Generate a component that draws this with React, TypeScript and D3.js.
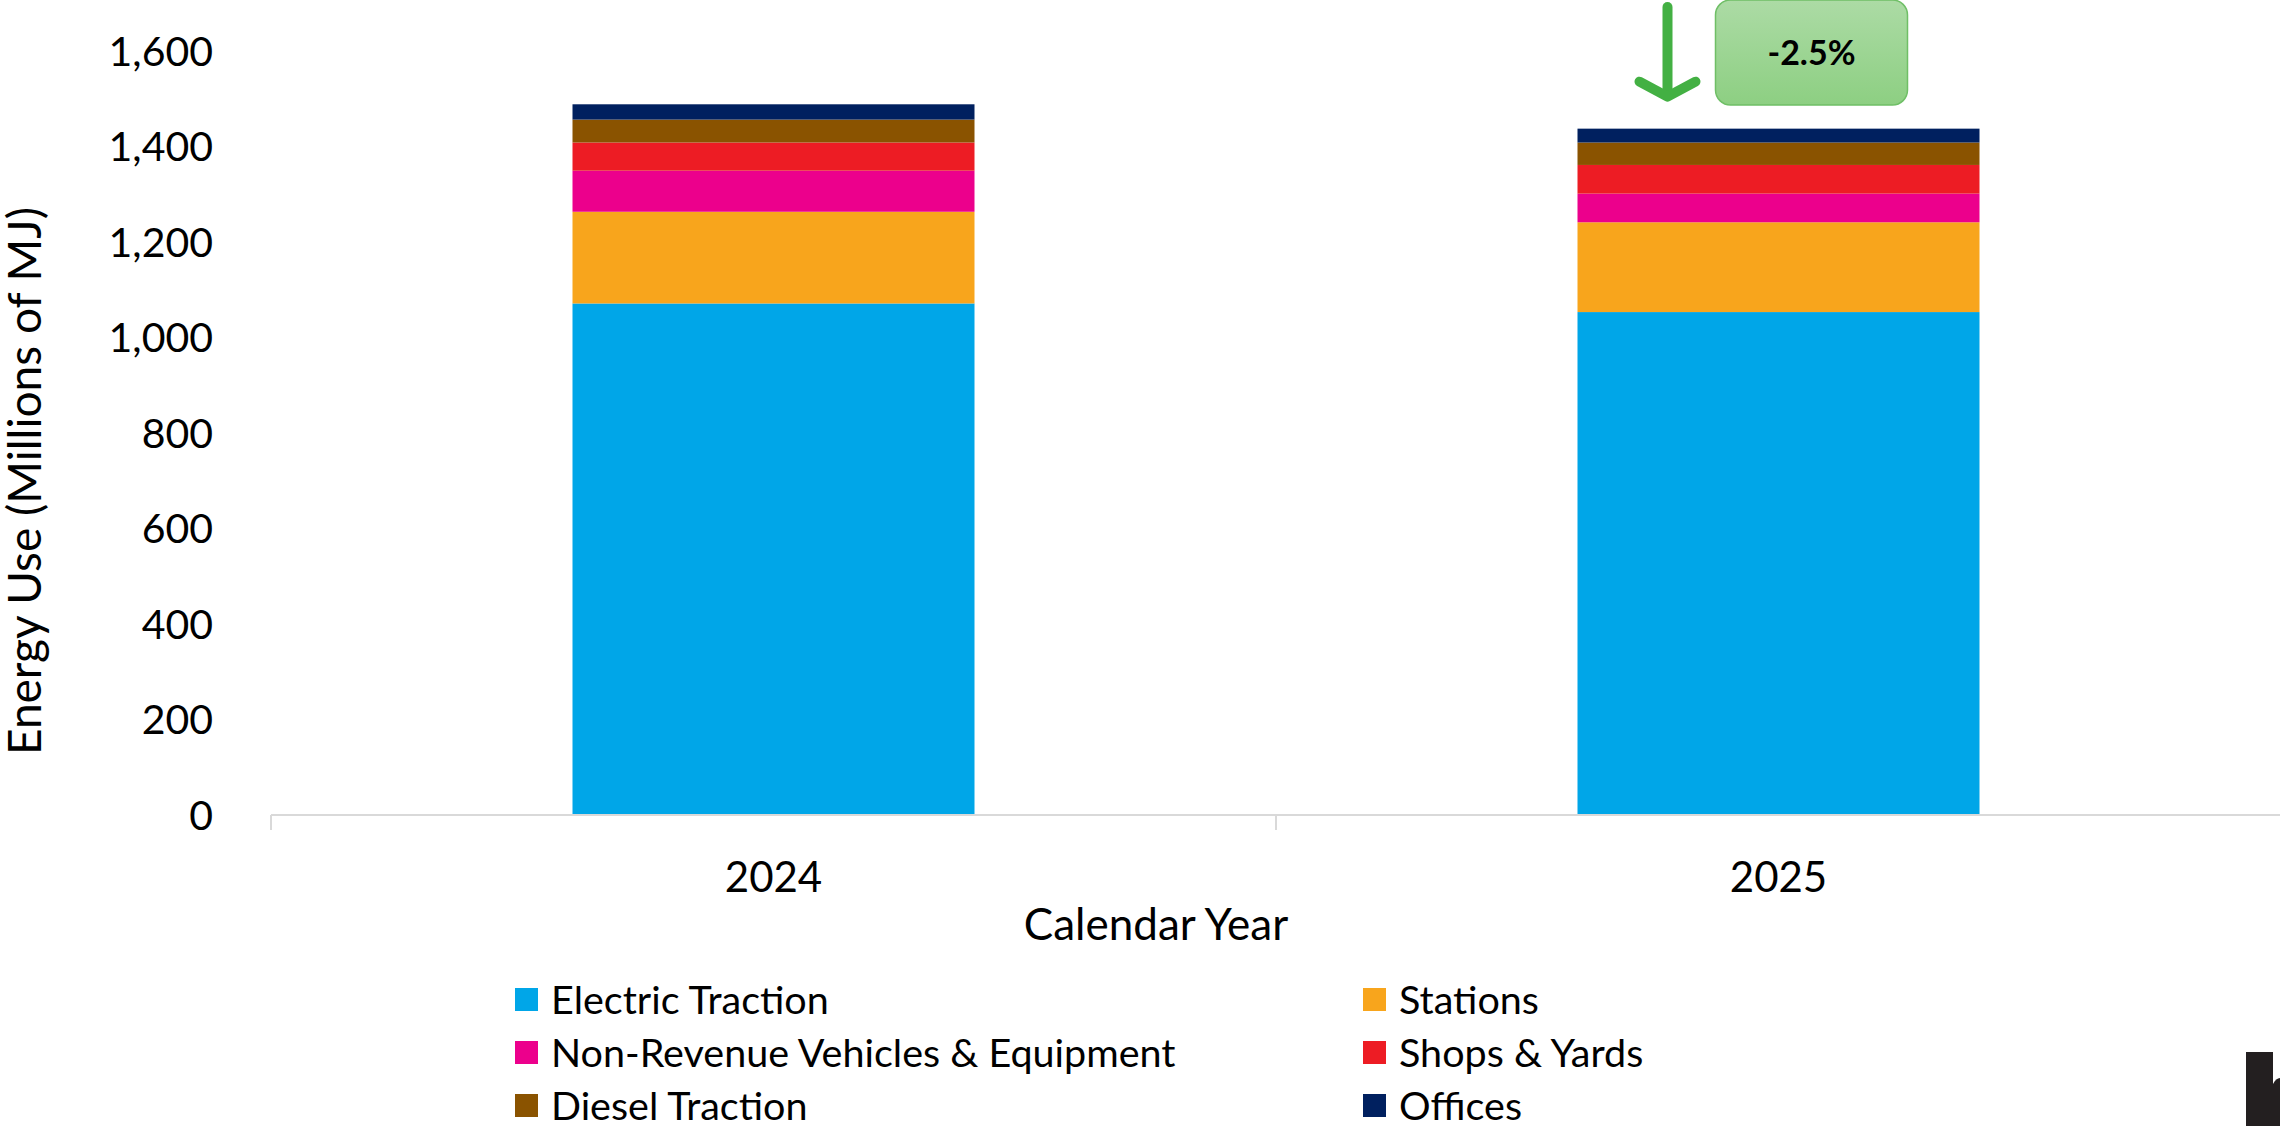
import React from "react";
import * as d3 from "d3";

const years = ["2024", "2025"];
const seriesNames = [
  "Electric Traction",
  "Stations",
  "Non-Revenue Vehicles & Equipment",
  "Shops & Yards",
  "Diesel Traction",
  "Offices",
];
const electricTraction = [1071, 1053];
const stations = [192, 188];
const nonRevenue = [86, 60];
const shopsYards = [59, 60];
const dieselTraction = [48, 47];
const offices = [32, 29];
const seriesColors = ["#00a6e8", "#f8a51c", "#ec008c", "#ed1c24", "#8a5300", "#00205f"];
const yTicks = [0, 200, 400, 600, 800, 1000, 1200, 1400, 1600];
const changeLabel = "-2.5%";

const W = 2280;
const H = 1126;
const FONT = "Lato, Carlito, Calibri, sans-serif";

export default function App() {
  const seriesValues = [electricTraction, stations, nonRevenue, shopsYards, dieselTraction, offices];
  const rows = years.map((yr, i) => {
    const r: any = { year: yr };
    seriesNames.forEach((s, k) => (r[s] = seriesValues[k][i]));
    return r;
  });
  const stacked = d3.stack<any>().keys(seriesNames)(rows);

  const x = d3.scaleBand<string>().domain(years).range([271, 2281]).paddingInner(0.6).paddingOuter(0.3);
  const y = d3.scaleLinear().domain([0, 1600]).range([815, 50.8]);
  const step = x.step();
  const boundaries = d3.range(years.length + 1).map((i) => 271 + i * step);

  const totals = rows.map((_, i) => d3.sum(seriesValues, (s) => s[i]));
  const bx = x("2025")!;
  const arrowX = bx + 90;
  const arrowTip = y(totals[1]) - 32;
  const boxX = bx + 138;
  const boxW = 192;

  const legendRows = [0, 1, 2];
  return (
    <svg width={W} height={H} style={{ position: "absolute", left: 0, top: 0, background: "#fff" }} fontFamily={FONT}>
      <defs>
        <linearGradient id="boxg" x1="0" y1="0" x2="0" y2="1">
          <stop offset="0" stopColor="#acdba5" />
          <stop offset="1" stopColor="#8dcf82" />
        </linearGradient>
      </defs>
      {stacked.map((layer, k) => (
        <g key={layer.key} fill={seriesColors[k]}>
          {layer.map((d, i) => (
            <rect key={i} x={x(years[i])} width={x.bandwidth()} y={y(d[1])} height={y(d[0]) - y(d[1])} />
          ))}
        </g>
      ))}
      <line x1={271} x2={W} y1={y(0)} y2={y(0)} stroke="#d9d9d9" strokeWidth={2} />
      {boundaries.map((b, i) => (
        <line key={i} x1={b} x2={b} y1={y(0)} y2={y(0) + 15} stroke="#d9d9d9" strokeWidth={2} />
      ))}
      {yTicks.map((t) => (
        <text key={t} x={213} y={y(t)} dy="0.36em" textAnchor="end" fontSize={41} fill="#000">
          {d3.format(",")(t)}
        </text>
      ))}
      {years.map((yr) => (
        <text key={yr} x={x(yr)! + x.bandwidth() / 2} y={877} dy="0.36em" textAnchor="middle" fontSize={42} fill="#000">
          {yr}
        </text>
      ))}
      <text x={1156} y={924} dy="0.36em" textAnchor="middle" fontSize={44} fill="#000">
        Calendar Year
      </text>
      <text transform="translate(24,481) rotate(-90)" dy="0.36em" textAnchor="middle" fontSize={46} fill="#000">
        Energy Use (Millions of MJ)
      </text>
      {seriesNames.map((s, k) => {
        const col = k % 2;
        const row = legendRows[Math.floor(k / 2)];
        const lx = 515 + col * 848;
        const ly = 1000 + row * 53;
        return (
          <g key={s}>
            <rect x={lx} y={ly - 12} width={23} height={23} fill={seriesColors[k]} />
            <text x={lx + 36} y={ly} dy="0.36em" fontSize={39.5} fill="#000">
              {s}
            </text>
          </g>
        );
      })}
      <g stroke="#43b043" strokeWidth={10} strokeLinecap="round" strokeLinejoin="round" fill="none">
        <line x1={arrowX} x2={arrowX} y1={7} y2={arrowTip - 2} />
        <polyline points={`${arrowX - 28},${arrowTip - 15} ${arrowX},${arrowTip} ${arrowX + 28},${arrowTip - 15}`} />
      </g>
      <rect x={boxX} y={0} width={boxW} height={105} rx={15} fill="url(#boxg)" stroke="#6fbf66" strokeWidth={1.5} />
      <text x={boxX + boxW / 2} y={53} dy="0.36em" textAnchor="middle" fontSize={34} fontWeight="bold" fill="#000">
        {changeLabel}
      </text>
      <rect x={2246} y={1052} width={27} height={74} fill="#231f20" />
      <path d="M2273,1084 Q2276,1078 2280,1078 L2280,1126 L2273,1126 Z" fill="#231f20" />
    </svg>
  );
}
